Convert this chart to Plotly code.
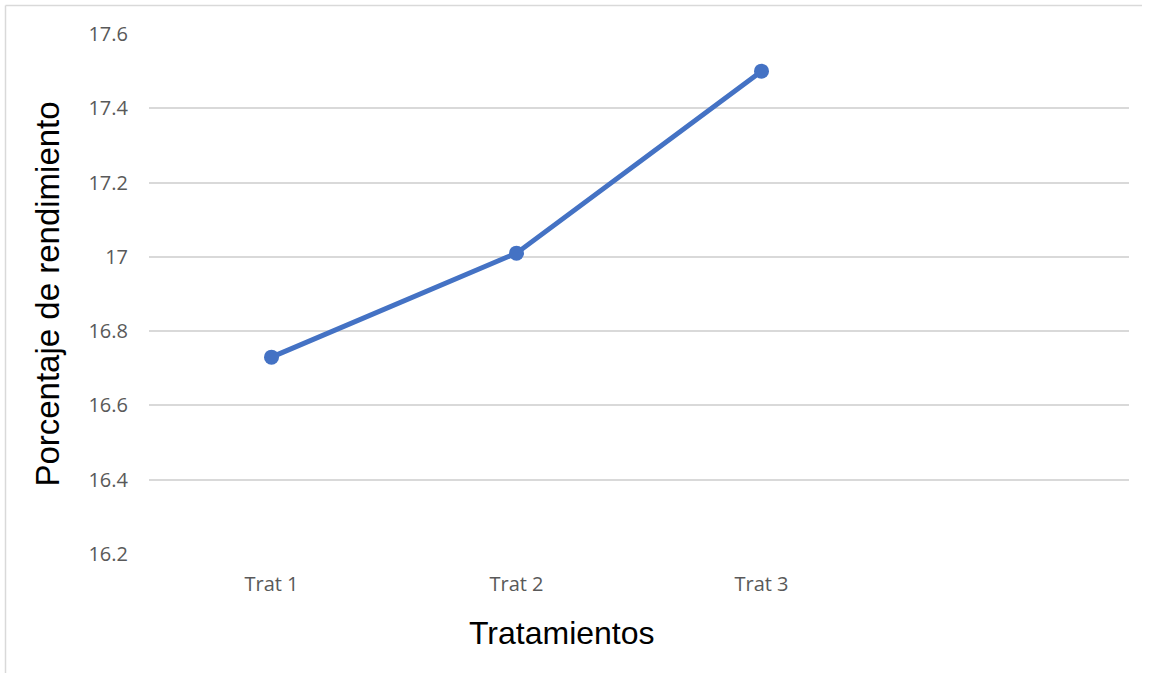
import plotly.graph_objects as go

categories = ["Trat 1", "Trat 2", "Trat 3", " "]
values = [16.73, 17.01, 17.50, None]
y_ticks = [16.2, 16.4, 16.6, 16.8, 17.0, 17.2, 17.4, 17.6]
y_tick_labels = ["16.2", "16.4", "16.6", "16.8", "17", "17.2", "17.4", "17.6"]
x_title = "Tratamientos"
y_title = "Porcentaje de rendimiento"

W, H = 1151, 673
L, R, T, B = 149, 22, 34, 119
pw, ph = W - L - R, H - T - B

def px_x(p):
    return (p - L) / pw

def px_y(p):
    return (H - B - p) / ph

fig = go.Figure()
fig.add_trace(go.Scatter(
    x=categories, y=values, mode="lines+markers",
    line=dict(color="#4472C4", width=5),
    marker=dict(color="#4472C4", size=15),
    connectgaps=False, showlegend=False, hoverinfo="x+y",
))

tick_font = dict(family="Open Sans, sans-serif", size=20, color="#595959")
x_title_font = dict(family="Liberation Sans, Arial, sans-serif", size=32, color="#000000")
y_title_font = dict(family="Liberation Sans, Arial, sans-serif", size=33, color="#000000")

fig.update_layout(
    width=W, height=H,
    margin=dict(l=L, r=R, t=T, b=B, autoexpand=False),
    paper_bgcolor="white", plot_bgcolor="white",
    xaxis=dict(
        type="category", categoryorder="array", categoryarray=categories,
        range=[-0.5, 3.5], showgrid=False, zeroline=False, showline=False,
        ticks="", tickfont=tick_font, ticklabelstandoff=16,
        automargin=False, fixedrange=True,
    ),
    yaxis=dict(
        range=[16.2, 17.6], tickvals=y_ticks, ticktext=y_tick_labels,
        showgrid=True, gridcolor="#D9D9D9", gridwidth=1.8,
        zeroline=False, showline=False, ticks="", tickfont=tick_font,
        ticklabelstandoff=20,
        title=dict(text=y_title, font=y_title_font, standoff=18),
        automargin=False, fixedrange=True,
    ),
)

fig.add_annotation(
    text=x_title, xref="paper", yref="paper",
    x=px_x(562), y=px_y(633), xanchor="center", yanchor="middle",
    showarrow=False, font=x_title_font,
)

# outer chart border (left and top edges visible in the reference)
fig.add_shape(type="line", xref="paper", yref="paper",
              x0=px_x(5.5), x1=px_x(5.5), y0=px_y(5.5), y1=px_y(680),
              line=dict(color="#D9D9D9", width=1.5))
fig.add_shape(type="line", xref="paper", yref="paper",
              x0=px_x(5.5), x1=px_x(1142), y0=px_y(5.5), y1=px_y(5.5),
              line=dict(color="#D9D9D9", width=1.5))

fig.write_html("out.html")
